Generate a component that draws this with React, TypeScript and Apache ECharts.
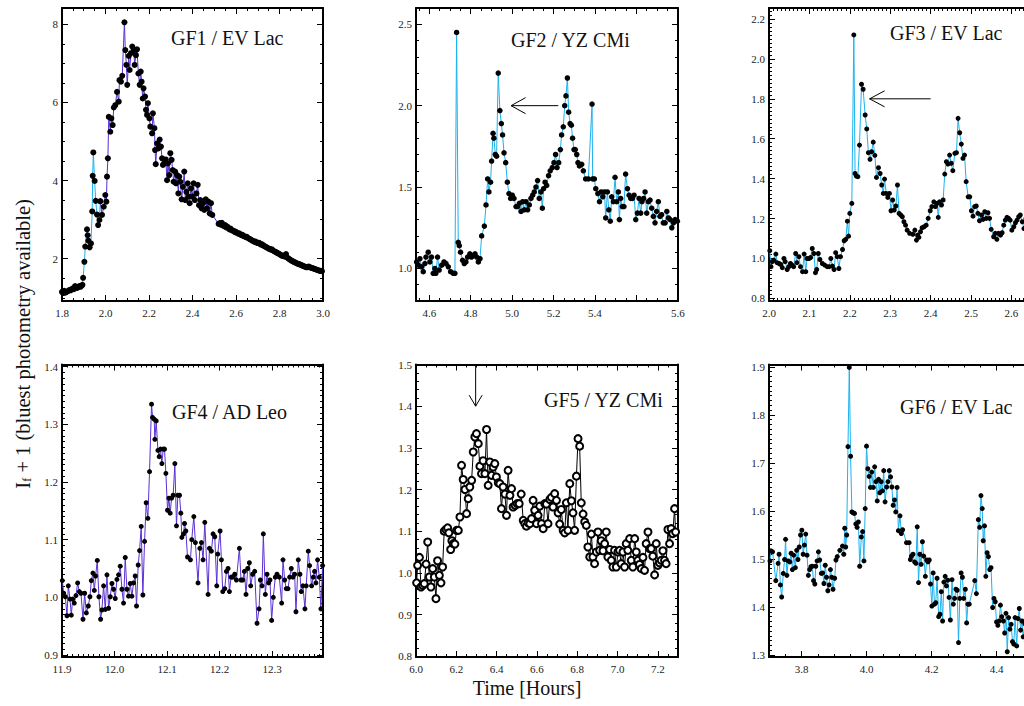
import React, { useEffect, useRef } from "react";
import * as echarts from "echarts";

const FONT = "'Liberation Serif', 'Times New Roman', serif";
const CYAN = "#1cb2ee";
const PURPLE = "#5a30d4";

// ---------------- data (time [hours], I_f + 1) ----------------
const gf1: number[][] = [
  [1.8, 1.15], [1.805, 1.12], [1.81, 1.18], [1.815, 1.13], [1.82, 1.15], [1.825, 1.16], [1.83, 1.18], [1.835, 1.2], [1.84, 1.19], [1.845, 1.22],
  [1.85, 1.24], [1.855, 1.22], [1.86, 1.3], [1.865, 1.27], [1.87, 1.25], [1.875, 1.28], [1.88, 1.3], [1.885, 1.28], [1.89, 1.31], [1.894, 1.33],
  [1.897, 1.51], [1.903, 1.92], [1.907, 2.31], [1.915, 2.75], [1.918, 2.6], [1.921, 2.46], [1.927, 2.29], [1.933, 2.39], [1.939, 3.21], [1.941, 4.12],
  [1.944, 4.72], [1.95, 3.99], [1.955, 3.48], [1.961, 3.13], [1.966, 2.86], [1.972, 2.99], [1.976, 3.47],
  [1.984, 3.12], [1.992, 3.33], [1.999, 3.63], [2.004, 3.46], [2.007, 4.1], [2.011, 4.57], [2.015, 5.63], [2.022, 5.25], [2.027, 5.59], [2.033, 5.42],
  [2.038, 5.87], [2.045, 5.93], [2.053, 6.27], [2.061, 6.02], [2.064, 6.57], [2.071, 6.53], [2.077, 6.68], [2.087, 8.05], [2.091, 7.34], [2.096, 6.96],
  [2.1, 6.45], [2.107, 7.19], [2.111, 6.83], [2.117, 7.26], [2.123, 7.43], [2.13, 7.34], [2.134, 6.96], [2.14, 7.21], [2.145, 7.36], [2.151, 6.74],
  [2.157, 6.45], [2.162, 6.79], [2.166, 6.53], [2.171, 6.1], [2.175, 6.36], [2.182, 6.15], [2.186, 5.81], [2.191, 5.68], [2.195, 5.98], [2.202, 5.59],
  [2.206, 5.38], [2.214, 5.21], [2.218, 5.72], [2.225, 5.34], [2.228, 4.78], [2.231, 4.42], [2.237, 4.95], [2.243, 4.82], [2.249, 5.05], [2.255, 4.87],
  [2.26, 4.57], [2.264, 4.4], [2.27, 4.44], [2.277, 4.54], [2.283, 4.01], [2.287, 4.44], [2.293, 4.14], [2.298, 4.7], [2.304, 4.53], [2.309, 4.27],
  [2.313, 3.97], [2.32, 4.23], [2.324, 3.93], [2.329, 4.14], [2.335, 3.67], [2.339, 4.1], [2.344, 3.97], [2.35, 3.52], [2.356, 3.84], [2.362, 4.23],
  [2.367, 3.5], [2.372, 3.71], [2.378, 3.93], [2.382, 3.59], [2.387, 3.42], [2.393, 3.8], [2.399, 3.59], [2.405, 3.93], [2.411, 3.5], [2.418, 3.67],
  [2.424, 3.89], [2.43, 3.37], [2.436, 3.5], [2.442, 3.29], [2.448, 3.42], [2.454, 3.25], [2.461, 3.52], [2.467, 3.29], [2.473, 3.46], [2.479, 3.16],
  [2.485, 3.42], [2.491, 3.12],
  [2.52, 2.89], [2.525, 2.91], [2.53, 2.87], [2.535, 2.92], [2.54, 2.85], [2.545, 2.83], [2.55, 2.86], [2.555, 2.8], [2.56, 2.82], [2.565, 2.78],
  [2.57, 2.75], [2.575, 2.77], [2.58, 2.73], [2.585, 2.72], [2.59, 2.71], [2.595, 2.68], [2.6, 2.69], [2.605, 2.66], [2.61, 2.64], [2.615, 2.65],
  [2.62, 2.62], [2.625, 2.6], [2.63, 2.61], [2.635, 2.58], [2.64, 2.57], [2.645, 2.55], [2.65, 2.56], [2.655, 2.53], [2.66, 2.51], [2.665, 2.5],
  [2.67, 2.48], [2.675, 2.46], [2.68, 2.45], [2.685, 2.43], [2.69, 2.44], [2.695, 2.41], [2.7, 2.4], [2.705, 2.41], [2.71, 2.38], [2.715, 2.36],
  [2.72, 2.37], [2.725, 2.34], [2.73, 2.32], [2.735, 2.31], [2.74, 2.29], [2.745, 2.28], [2.75, 2.26], [2.755, 2.25], [2.76, 2.23], [2.765, 2.24],
  [2.77, 2.21], [2.775, 2.19], [2.78, 2.18], [2.785, 2.16], [2.79, 2.15], [2.795, 2.13], [2.8, 2.12], [2.805, 2.1], [2.81, 2.08], [2.815, 2.07],
  [2.82, 2.08], [2.825, 2.05], [2.83, 2.12], [2.835, 2.03], [2.84, 2.01], [2.845, 1.99], [2.85, 1.97], [2.855, 1.95], [2.86, 1.94], [2.865, 1.92],
  [2.87, 1.91], [2.875, 1.89], [2.88, 1.88], [2.885, 1.87], [2.89, 1.86], [2.895, 1.85], [2.9, 1.84], [2.905, 1.82], [2.91, 1.81], [2.915, 1.8],
  [2.92, 1.79], [2.925, 1.78], [2.93, 1.79], [2.935, 1.8], [2.94, 1.78], [2.945, 1.77], [2.95, 1.76], [2.955, 1.75], [2.96, 1.74], [2.965, 1.73],
  [2.97, 1.72], [2.975, 1.71], [2.98, 1.7], [2.985, 1.69], [2.99, 1.69], [2.995, 1.68],
];
const GF1_CYAN_UNTIL = 1.976;

const gf2: number[][] = [
  [4.539, 1.04], [4.547, 1.02], [4.555, 1.06], [4.563, 1.01], [4.571, 0.98], [4.579, 1.03], [4.584, 1.07], [4.595, 1.1], [4.603, 1.04], [4.611, 1.07],
  [4.619, 0.97], [4.627, 1.0], [4.632, 0.97], [4.64, 1.07], [4.648, 0.99], [4.66, 1.02], [4.671, 1.04], [4.681, 1.03], [4.692, 1.01], [4.703, 0.98],
  [4.716, 0.97], [4.724, 0.97], [4.732, 2.45], [4.74, 1.16], [4.745, 1.14], [4.751, 1.1], [4.761, 1.05], [4.769, 1.03], [4.777, 1.04], [4.785, 1.07],
  [4.796, 1.09], [4.804, 1.07], [4.813, 1.08], [4.821, 1.09], [4.829, 1.07], [4.837, 1.04], [4.845, 1.06], [4.853, 1.2], [4.866, 1.26], [4.874, 1.39],
  [4.882, 1.55], [4.888, 1.47], [4.896, 1.53], [4.901, 1.66], [4.908, 1.83], [4.912, 1.8], [4.919, 1.7], [4.925, 1.69], [4.933, 2.2], [4.941, 1.97],
  [4.948, 1.89], [4.954, 1.82], [4.961, 1.71], [4.969, 1.65], [4.977, 1.53], [4.985, 1.46], [4.993, 1.43], [5.001, 1.45], [5.009, 1.43], [5.019, 1.38],
  [5.027, 1.38], [5.035, 1.4], [5.043, 1.35], [5.051, 1.41], [5.059, 1.36], [5.067, 1.41], [5.075, 1.36], [5.083, 1.39], [5.091, 1.43], [5.099, 1.45],
  [5.107, 1.47], [5.115, 1.5], [5.123, 1.54], [5.131, 1.43], [5.139, 1.47], [5.146, 1.37], [5.152, 1.49], [5.159, 1.53], [5.167, 1.51], [5.176, 1.57],
  [5.184, 1.6], [5.194, 1.62], [5.202, 1.65], [5.21, 1.7], [5.217, 1.62], [5.225, 1.65], [5.233, 1.73], [5.239, 1.82], [5.247, 1.87], [5.254, 2.0],
  [5.26, 2.06], [5.267, 2.17], [5.273, 1.96], [5.28, 1.89], [5.286, 1.88], [5.292, 1.8], [5.299, 1.73], [5.305, 1.73], [5.312, 1.7], [5.318, 1.65],
  [5.325, 1.63], [5.336, 1.64], [5.344, 1.6], [5.355, 1.55], [5.368, 1.55], [5.386, 2.01], [5.389, 1.55], [5.397, 1.55], [5.404, 1.49], [5.414, 1.46],
  [5.422, 1.41], [5.43, 1.47], [5.438, 1.44], [5.446, 1.47], [5.452, 1.31], [5.46, 1.47], [5.467, 1.36], [5.474, 1.29], [5.481, 1.44], [5.489, 1.41],
  [5.497, 1.56], [5.505, 1.41], [5.513, 1.47], [5.518, 1.3], [5.524, 1.43], [5.532, 1.38], [5.54, 1.38], [5.548, 1.58], [5.557, 1.49], [5.565, 1.45],
  [5.573, 1.43], [5.581, 1.43], [5.589, 1.45], [5.597, 1.3], [5.605, 1.34], [5.613, 1.43], [5.621, 1.34], [5.627, 1.41], [5.635, 1.43], [5.642, 1.47],
  [5.65, 1.34], [5.658, 1.41], [5.666, 1.42], [5.674, 1.37], [5.682, 1.32], [5.69, 1.28], [5.698, 1.35], [5.706, 1.41], [5.714, 1.32], [5.722, 1.33],
  [5.73, 1.28], [5.739, 1.28], [5.747, 1.35], [5.755, 1.31], [5.763, 1.3], [5.771, 1.25], [5.779, 1.28], [5.787, 1.3], [5.798, 1.29],
];

const gf3: number[][] = [
  [2.002, 1.039], [2.005, 0.959], [2.008, 0.984], [2.012, 0.992], [2.017, 1.022], [2.02, 0.979], [2.025, 0.975], [2.029, 0.97], [2.033, 0.954], [2.037, 1.0],
  [2.04, 0.984], [2.045, 0.945], [2.049, 0.959], [2.053, 0.975], [2.057, 0.967], [2.061, 0.959], [2.066, 1.025], [2.069, 0.979], [2.074, 1.009], [2.078, 0.959],
  [2.083, 0.934], [2.087, 1.022], [2.091, 0.934], [2.094, 1.0], [2.099, 1.0], [2.103, 1.005], [2.107, 1.05], [2.111, 1.025], [2.115, 0.929], [2.118, 0.945],
  [2.122, 1.025], [2.126, 0.995], [2.132, 0.975], [2.138, 0.967], [2.144, 0.959], [2.149, 0.959], [2.153, 1.0], [2.157, 0.962], [2.161, 0.945], [2.165, 1.029],
  [2.169, 1.009], [2.173, 0.95], [2.177, 1.009], [2.182, 1.045], [2.186, 1.089], [2.19, 1.096], [2.194, 1.187], [2.197, 1.112], [2.2, 1.226], [2.205, 1.276],
  [2.21, 2.12], [2.213, 1.426], [2.216, 1.413], [2.22, 1.41], [2.224, 1.568], [2.229, 1.873], [2.233, 1.848], [2.238, 1.719], [2.242, 1.649], [2.246, 1.53],
  [2.25, 1.497], [2.254, 1.535], [2.258, 1.583], [2.262, 1.517], [2.266, 1.406], [2.271, 1.455], [2.275, 1.426], [2.279, 1.368], [2.283, 1.326], [2.286, 1.398],
  [2.29, 1.326], [2.294, 1.306], [2.298, 1.326], [2.302, 1.239], [2.306, 1.293], [2.31, 1.243], [2.314, 1.263], [2.318, 1.368], [2.322, 1.226], [2.326, 1.218],
  [2.33, 1.209], [2.334, 1.184], [2.338, 1.167], [2.342, 1.142], [2.348, 1.126], [2.356, 1.121], [2.361, 1.142], [2.365, 1.092], [2.368, 1.117], [2.371, 1.106],
  [2.375, 1.134], [2.379, 1.154], [2.384, 1.159], [2.389, 1.167], [2.394, 1.201], [2.399, 1.239], [2.403, 1.26], [2.408, 1.284], [2.412, 1.26], [2.416, 1.276],
  [2.419, 1.206], [2.422, 1.284], [2.427, 1.268], [2.431, 1.293], [2.435, 1.423], [2.439, 1.485], [2.443, 1.473], [2.447, 1.518], [2.451, 1.477], [2.455, 1.44],
  [2.46, 1.527], [2.464, 1.53], [2.468, 1.702], [2.472, 1.63], [2.476, 1.573], [2.48, 1.502], [2.484, 1.518], [2.488, 1.385], [2.493, 1.309], [2.497, 1.309],
  [2.501, 1.239], [2.505, 1.212], [2.509, 1.26], [2.513, 1.263], [2.517, 1.226], [2.521, 1.189], [2.526, 1.218], [2.53, 1.196], [2.534, 1.234], [2.538, 1.201],
  [2.542, 1.229], [2.546, 1.201], [2.55, 1.146], [2.556, 1.109], [2.56, 1.126], [2.564, 1.096], [2.568, 1.126], [2.573, 1.117], [2.577, 1.129], [2.581, 1.167],
  [2.585, 1.192], [2.589, 1.206], [2.593, 1.201], [2.597, 1.192], [2.601, 1.142], [2.606, 1.159], [2.61, 1.179], [2.614, 1.192], [2.618, 1.209], [2.622, 1.218],
  [2.627, 1.184], [2.631, 1.15], [2.636, 1.2], [2.641, 1.21], [2.646, 1.17],
];

const gf4: number[][] = [
  [11.9006, 1.029], [11.9032, 1.007], [11.9063, 1.001], [11.9095, 0.968], [11.912, 1.02], [11.9152, 0.997], [11.9177, 0.969], [11.9203, 0.997], [11.9234, 0.99], [11.9266, 1.003],
  [11.9298, 1.025], [11.933, 1.01], [11.9361, 1.007], [11.94, 0.962], [11.9431, 1.007], [11.9463, 0.973], [11.9501, 0.985], [11.9532, 1.001], [11.9558, 1.029], [11.9589, 1.042],
  [11.9615, 1.012], [11.964, 1.037], [11.9672, 1.064], [11.9703, 1.001], [11.9735, 0.962], [11.976, 0.978], [11.9792, 1.02], [11.9824, 0.979], [11.9856, 1.039], [11.9887, 0.981],
  [11.9919, 1.001], [11.9951, 1.024], [11.9982, 1.014], [12.0014, 0.998], [12.0046, 1.031], [12.0077, 1.039], [12.0109, 1.054], [12.0141, 1.014], [12.0172, 0.99], [12.0204, 1.069],
  [12.0236, 1.014], [12.0267, 1.002], [12.0299, 1.024], [12.0331, 1.002], [12.0362, 1.025], [12.0394, 1.037], [12.0419, 0.985], [12.0451, 1.056], [12.0477, 1.081], [12.0508, 1.123],
  [12.054, 1.004], [12.0572, 1.097], [12.0603, 1.164], [12.0635, 1.137], [12.0667, 1.218], [12.0705, 1.335], [12.0724, 1.312], [12.0755, 1.309], [12.0768, 1.274], [12.0794, 1.306],
  [12.0826, 1.255], [12.0851, 1.244], [12.0876, 1.257], [12.0902, 1.232], [12.0927, 1.257], [12.0952, 1.257], [12.0978, 1.215], [12.101, 1.151], [12.1035, 1.172], [12.106, 1.146],
  [12.1086, 1.172], [12.1117, 1.177], [12.1149, 1.232], [12.118, 1.124], [12.1206, 1.177], [12.1238, 1.177], [12.1263, 1.146], [12.1282, 1.104], [12.1314, 1.11], [12.1333, 1.128],
  [12.1358, 1.115], [12.139, 1.07], [12.1446, 1.065], [12.1471, 1.1], [12.151, 1.14], [12.154, 1.095], [12.159, 1.025], [12.1624, 1.085], [12.1655, 1.095], [12.1687, 1.065],
  [12.1719, 1.13], [12.1782, 1.005], [12.1807, 1.085], [12.1845, 1.08], [12.1877, 1.11], [12.1909, 1.105], [12.1947, 1.02], [12.1966, 1.075], [12.201, 1.115], [12.2036, 1.065],
  [12.2061, 1.01], [12.2099, 1.015], [12.2131, 1.045], [12.2163, 1.05], [12.2188, 1.01], [12.222, 1.035], [12.2251, 1.035], [12.2289, 1.04], [12.2321, 1.03], [12.2378, 1.085],
  [12.2409, 1.03], [12.2441, 1.03], [12.2473, 1.045], [12.2504, 1.005], [12.2536, 1.05], [12.2568, 1.06], [12.2593, 1.02], [12.2631, 1.04], [12.2669, 1.045], [12.2714, 0.955],
  [12.2752, 0.98], [12.2777, 1.03], [12.2809, 1.02], [12.2834, 1.11], [12.2872, 1.005], [12.2904, 1.04], [12.2935, 1.025], [12.296, 1.03], [12.2992, 0.96], [12.3024, 1.0],
  [12.3062, 1.035], [12.3094, 1.04], [12.3138, 1.035], [12.3183, 0.99], [12.3208, 1.065], [12.324, 1.03], [12.3271, 1.015], [12.3303, 1.015], [12.3335, 1.035], [12.3366, 1.05],
  [12.3398, 1.035], [12.343, 1.04], [12.3455, 0.975], [12.3499, 1.065], [12.3531, 1.04], [12.3556, 1.01], [12.3588, 1.02], [12.3626, 0.98], [12.3651, 1.02], [12.369, 1.08],
  [12.3715, 1.055], [12.3753, 1.02], [12.3785, 1.035], [12.381, 1.045], [12.3835, 1.025], [12.3867, 1.065], [12.3899, 1.035], [12.393, 0.98], [12.3962, 1.055],
];

const gf5: number[][] = [
  [6.003, 0.976], [6.008, 1.018], [6.017, 1.037], [6.025, 0.966], [6.033, 0.97], [6.041, 0.974], [6.05, 1.021], [6.058, 1.074], [6.066, 0.99], [6.074, 0.966],
  [6.083, 1.01], [6.091, 0.99], [6.099, 0.938], [6.107, 1.029], [6.116, 0.994], [6.124, 0.976], [6.132, 1.014], [6.14, 1.1], [6.149, 1.104], [6.157, 1.108],
  [6.163, 1.096], [6.172, 1.056], [6.178, 1.077], [6.185, 1.07], [6.193, 1.069], [6.201, 1.102], [6.21, 1.102], [6.218, 1.134], [6.226, 1.258], [6.234, 1.224],
  [6.243, 1.2], [6.251, 1.142], [6.259, 1.178], [6.267, 1.206], [6.276, 1.222], [6.284, 1.29], [6.292, 1.326], [6.3, 1.334], [6.309, 1.31], [6.317, 1.256],
  [6.325, 1.238], [6.333, 1.269], [6.342, 1.238], [6.35, 1.344], [6.358, 1.21], [6.366, 1.266], [6.375, 1.234], [6.383, 1.254], [6.391, 1.262], [6.399, 1.23],
  [6.408, 1.216], [6.416, 1.214], [6.424, 1.154], [6.432, 1.206], [6.441, 1.189], [6.449, 1.138], [6.457, 1.246], [6.466, 1.186], [6.474, 1.202], [6.482, 1.158],
  [6.492, 1.162], [6.502, 1.166], [6.512, 1.166], [6.522, 1.189], [6.532, 1.126], [6.54, 1.118], [6.548, 1.112], [6.556, 1.12], [6.565, 1.118], [6.573, 1.13],
  [6.581, 1.174], [6.589, 1.15], [6.598, 1.118], [6.606, 1.138], [6.614, 1.16], [6.623, 1.118], [6.631, 1.106], [6.639, 1.166], [6.647, 1.165], [6.655, 1.118],
  [6.664, 1.176], [6.672, 1.181], [6.68, 1.158], [6.688, 1.19], [6.697, 1.174], [6.705, 1.144], [6.713, 1.117], [6.721, 1.152], [6.73, 1.102], [6.738, 1.096],
  [6.746, 1.168], [6.754, 1.102], [6.763, 1.214], [6.771, 1.173], [6.779, 1.144], [6.787, 1.102], [6.796, 1.232], [6.804, 1.322], [6.812, 1.304], [6.82, 1.168],
  [6.829, 1.141], [6.837, 1.122], [6.845, 1.114], [6.853, 1.062], [6.862, 1.038], [6.87, 1.093], [6.878, 1.038], [6.886, 1.022], [6.895, 1.05], [6.903, 1.098],
  [6.911, 1.054], [6.919, 1.077], [6.928, 1.053], [6.936, 1.07], [6.944, 1.098], [6.952, 1.038], [6.961, 1.056], [6.969, 1.03], [6.977, 1.014], [6.985, 1.054],
  [6.994, 1.014], [7.002, 1.05], [7.01, 1.054], [7.018, 1.022], [7.027, 1.05], [7.035, 1.014], [7.043, 1.07], [7.051, 1.054], [7.06, 1.082], [7.068, 1.03],
  [7.076, 1.014], [7.085, 1.082], [7.093, 1.05], [7.101, 1.03], [7.109, 1.02], [7.118, 1.01], [7.126, 1.037], [7.134, 1.006], [7.142, 1.07], [7.151, 1.098],
  [7.159, 1.058], [7.167, 1.058], [7.175, 1.04], [7.184, 0.995], [7.192, 1.07], [7.2, 1.018], [7.208, 1.024], [7.217, 1.03], [7.225, 1.053], [7.233, 1.03],
  [7.241, 1.022], [7.25, 1.104], [7.258, 1.07], [7.266, 1.106], [7.274, 1.094], [7.283, 1.154], [7.288, 1.098],
];

const gf6: number[][] = [
  [3.703, 1.496], [3.706, 1.517], [3.711, 1.515], [3.721, 1.455], [3.728, 1.491], [3.731, 1.51], [3.735, 1.446], [3.739, 1.421], [3.744, 1.47], [3.748, 1.499],
  [3.751, 1.541], [3.755, 1.466], [3.759, 1.496], [3.764, 1.494], [3.768, 1.512], [3.772, 1.478], [3.776, 1.508], [3.781, 1.482], [3.785, 1.518], [3.789, 1.499],
  [3.793, 1.525], [3.797, 1.55], [3.801, 1.56], [3.805, 1.51], [3.809, 1.529], [3.813, 1.552], [3.817, 1.508], [3.821, 1.466], [3.825, 1.478], [3.829, 1.484],
  [3.833, 1.485], [3.837, 1.455], [3.841, 1.448], [3.844, 1.485], [3.848, 1.496], [3.852, 1.515], [3.856, 1.498], [3.861, 1.47], [3.865, 1.471], [3.869, 1.449],
  [3.873, 1.487], [3.877, 1.462], [3.881, 1.434], [3.885, 1.446], [3.889, 1.478], [3.893, 1.462], [3.897, 1.437], [3.902, 1.46], [3.906, 1.498], [3.91, 1.505],
  [3.918, 1.518], [3.926, 1.527], [3.93, 1.51], [3.933, 1.564], [3.936, 1.525], [3.939, 1.55], [3.943, 1.734], [3.947, 1.899], [3.951, 1.714], [3.955, 1.598],
  [3.959, 1.596], [3.963, 1.595], [3.967, 1.573], [3.971, 1.566], [3.975, 1.577], [3.979, 1.485], [3.984, 1.546], [3.988, 1.557], [3.992, 1.496], [3.996, 1.605],
  [4.0, 1.735], [4.004, 1.688], [4.008, 1.672], [4.012, 1.649], [4.016, 1.681], [4.021, 1.649], [4.025, 1.692], [4.029, 1.661], [4.033, 1.621], [4.037, 1.666],
  [4.041, 1.638], [4.045, 1.661], [4.049, 1.642], [4.053, 1.684], [4.057, 1.619], [4.062, 1.65], [4.066, 1.661], [4.07, 1.684], [4.074, 1.671], [4.078, 1.65],
  [4.082, 1.612], [4.086, 1.623], [4.09, 1.598], [4.094, 1.649], [4.098, 1.559], [4.103, 1.59], [4.107, 1.553], [4.111, 1.561], [4.123, 1.534], [4.131, 1.534],
  [4.135, 1.499], [4.138, 1.506], [4.143, 1.51], [4.148, 1.494], [4.152, 1.491], [4.156, 1.567], [4.16, 1.451], [4.164, 1.51], [4.168, 1.489], [4.172, 1.536],
  [4.176, 1.506], [4.181, 1.464], [4.185, 1.498], [4.189, 1.494], [4.193, 1.498], [4.197, 1.448], [4.201, 1.402], [4.205, 1.471], [4.209, 1.406], [4.213, 1.409],
  [4.217, 1.46], [4.222, 1.38], [4.226, 1.385], [4.23, 1.432], [4.234, 1.371], [4.238, 1.452], [4.242, 1.464], [4.246, 1.444], [4.25, 1.456], [4.254, 1.42],
  [4.258, 1.373], [4.263, 1.457], [4.267, 1.406], [4.271, 1.418], [4.275, 1.437], [4.279, 1.435], [4.283, 1.326], [4.287, 1.418], [4.291, 1.471], [4.295, 1.462],
  [4.299, 1.418], [4.304, 1.437], [4.308, 1.367], [4.312, 1.406], [4.316, 1.406], [4.333, 1.455], [4.338, 1.428], [4.344, 1.582], [4.348, 1.566], [4.352, 1.632],
  [4.356, 1.605], [4.359, 1.538], [4.363, 1.569], [4.367, 1.464], [4.371, 1.513], [4.375, 1.505], [4.379, 1.478], [4.383, 1.482], [4.388, 1.399], [4.392, 1.418],
  [4.396, 1.411], [4.4, 1.369], [4.404, 1.362], [4.408, 1.371], [4.412, 1.404], [4.416, 1.38], [4.421, 1.371], [4.425, 1.346], [4.429, 1.387], [4.433, 1.307],
  [4.437, 1.378], [4.441, 1.354], [4.445, 1.364], [4.449, 1.328], [4.453, 1.323], [4.457, 1.378], [4.462, 1.319], [4.466, 1.376], [4.47, 1.397], [4.474, 1.352],
  [4.478, 1.371], [4.482, 1.338], [4.487, 1.365], [4.492, 1.328],
];

// arrows: [x from, y from, x to, y to]
const gf2Arrow = [5.223, 2.0, 4.995, 2.0];
const gf3Arrow = [2.4, 1.8, 2.249, 1.8];
const gf5Arrow = [6.296, 1.5, 6.296, 1.4];

// ---------------- ticks ----------------
const gf1XLabels = [1.8, 2.0, 2.2, 2.4, 2.6, 2.8, 3.0];
const gf1YLabels = [2, 4, 6, 8];
const gf2XLabels = [4.6, 4.8, 5.0, 5.2, 5.4, 5.8];
const gf2YLabels = [1.0, 1.5, 2.0, 2.5];
const gf3XLabels = [2.0, 2.1, 2.2, 2.3, 2.4, 2.5, 2.6];
const gf3YLabels = [0.8, 1.0, 1.2, 1.4, 1.6, 1.8, 2.0, 2.2];
const gf4XLabels = [11.9, 12.0, 12.1, 12.2, 12.3];
const gf4YLabels = [0.9, 1.0, 1.1, 1.2, 1.3, 1.4];
const gf5XLabels = [6.0, 6.2, 6.4, 6.6, 6.8, 7.0, 7.2];
const gf5YLabels = [0.8, 0.9, 1.0, 1.1, 1.2, 1.3, 1.4, 1.5];
const gf6XLabels = [3.8, 4.0, 4.2, 4.4];
const gf6YLabels = [1.3, 1.4, 1.5, 1.6, 1.7, 1.8, 1.9];

function steps(a: number, b: number, s: number): number[] {
  const n = Math.round((b - a) / s);
  const out: number[] = [];
  for (let i = 0; i <= n; i++) out.push(+(a + i * s).toFixed(5));
  return out;
}

const fmt1 = (v: number) => v.toFixed(1);
const fmt0 = (v: number) => String(Math.round(v));
const fmtGf2X = (v: number) => (v > 5.7 ? "5.6" : v.toFixed(1));

type AxisDef = { min: number; max: number; major: number[]; minor: number[]; labels: number[]; fmt: (v: number) => string };
type PanelDef = { grid: { left: number; top: number; width: number; height: number }; x: AxisDef; y: AxisDef };

const panels: PanelDef[] = [
  {
    grid: { left: 62, top: 8, width: 261, height: 293 },
    x: { min: 1.8, max: 3.0, major: steps(1.8, 3.0, 0.2), minor: steps(1.8, 3.0, 0.05), labels: gf1XLabels, fmt: fmt1 },
    y: { min: 0.917, max: 8.417, major: gf1YLabels, minor: steps(1.0, 8.0, 0.5), labels: gf1YLabels, fmt: fmt0 },
  },
  {
    grid: { left: 416, top: 8, width: 262, height: 293 },
    x: { min: 4.536, max: 5.801, major: steps(4.6, 5.8, 0.2), minor: steps(4.55, 5.8, 0.05), labels: gf2XLabels, fmt: fmtGf2X },
    y: { min: 0.8, max: 2.6, major: gf2YLabels, minor: steps(0.8, 2.6, 0.1), labels: gf2YLabels, fmt: fmt1 },
  },
  {
    grid: { left: 769, top: 8, width: 262, height: 293 },
    x: { min: 2.0, max: 2.6485, major: steps(2.0, 2.6, 0.1), minor: steps(2.0, 2.64, 0.01), labels: gf3XLabels, fmt: fmt1 },
    y: { min: 0.787, max: 2.255, major: gf3YLabels, minor: steps(0.8, 2.24, 0.02), labels: gf3YLabels, fmt: fmt1 },
  },
  {
    grid: { left: 62, top: 364.5, width: 261, height: 292.5 },
    x: { min: 11.9, max: 12.397, major: steps(11.9, 12.3, 0.1), minor: steps(11.9, 12.39, 0.01), labels: gf4XLabels, fmt: fmt1 },
    y: { min: 0.8965, max: 1.4038, major: gf4YLabels, minor: steps(0.9, 1.4, 0.01), labels: gf4YLabels, fmt: fmt1 },
  },
  {
    grid: { left: 416, top: 364.5, width: 262, height: 292.5 },
    x: { min: 6.0, max: 7.3, major: steps(6.0, 7.2, 0.2), minor: steps(6.0, 7.3, 0.05), labels: gf5XLabels, fmt: fmt1 },
    y: { min: 0.798, max: 1.5, major: gf5YLabels, minor: steps(0.8, 1.5, 0.02), labels: gf5YLabels, fmt: fmt1 },
  },
  {
    grid: { left: 769, top: 364.5, width: 262, height: 292.5 },
    x: { min: 3.7, max: 4.506, major: steps(3.8, 4.4, 0.2), minor: steps(3.7, 4.5, 0.05), labels: gf6XLabels, fmt: fmt1 },
    y: { min: 1.296, max: 1.905, major: gf6YLabels, minor: steps(1.3, 1.9, 0.01), labels: gf6YLabels, fmt: fmt1 },
  },
];

const titles = [
  { text: "GF1 / EV Lac", x: 171, y: 38 },
  { text: "GF2 / YZ CMi", x: 511, y: 40 },
  { text: "GF3 / EV Lac", x: 890, y: 33 },
  { text: "GF4 / AD Leo", x: 172, y: 412 },
  { text: "GF5 / YZ CMi", x: 544, y: 400 },
  { text: "GF6 / EV Lac", x: 900, y: 407 },
];

function buildOption() {
  const grids: any[] = [];
  const xAxes: any[] = [];
  const yAxes: any[] = [];
  const labelStyle = { fontFamily: FONT, fontSize: 11, color: "#222" };
  const tickLine = { color: "#000", width: 1 };
  const boxLine = { show: true, onZero: false, lineStyle: { color: "#000", width: 2 } };
  const noLine = { show: false, onZero: false };

  panels.forEach((p, g) => {
    grids.push({ ...p.grid, containLabel: false, outerBoundsMode: "none" });
    const bx = { gridIndex: g, type: "value", min: p.x.min, max: p.x.max, splitLine: { show: false }, silent: true };
    xAxes.push({ ...bx, position: "bottom", axisLine: boxLine, axisTick: { show: true, inside: true, length: 6, customValues: p.x.major, lineStyle: tickLine }, axisLabel: { show: true, customValues: p.x.labels, formatter: p.x.fmt, margin: 6, ...labelStyle } });
    xAxes.push({ ...bx, position: "bottom", axisLine: noLine, axisTick: { show: true, inside: true, length: 3, customValues: p.x.minor, lineStyle: tickLine }, axisLabel: { show: false } });
    xAxes.push({ ...bx, position: "top", axisLine: boxLine, axisTick: { show: true, inside: true, length: 6, customValues: p.x.major, lineStyle: tickLine }, axisLabel: { show: false } });
    xAxes.push({ ...bx, position: "top", axisLine: noLine, axisTick: { show: true, inside: true, length: 3, customValues: p.x.minor, lineStyle: tickLine }, axisLabel: { show: false } });
    const by = { gridIndex: g, type: "value", min: p.y.min, max: p.y.max, splitLine: { show: false }, silent: true };
    yAxes.push({ ...by, position: "left", axisLine: boxLine, axisTick: { show: true, inside: true, length: 6, customValues: p.y.major, lineStyle: tickLine }, axisLabel: { show: true, customValues: p.y.labels, formatter: p.y.fmt, margin: 4, ...labelStyle } });
    yAxes.push({ ...by, position: "left", axisLine: noLine, axisTick: { show: true, inside: true, length: 3, customValues: p.y.minor, lineStyle: tickLine }, axisLabel: { show: false } });
    yAxes.push({ ...by, position: "right", axisLine: boxLine, axisTick: { show: true, inside: true, length: 6, customValues: p.y.major, lineStyle: tickLine }, axisLabel: { show: false } });
    yAxes.push({ ...by, position: "right", axisLine: noLine, axisTick: { show: true, inside: true, length: 3, customValues: p.y.minor, lineStyle: tickLine }, axisLabel: { show: false } });
  });

  const line = (g: number, data: number[][], color: string, size: number, symbol = "circle", borderWidth = 0) => ({
    type: "line",
    xAxisIndex: 4 * g,
    yAxisIndex: 4 * g,
    data,
    showSymbol: true,
    showAllSymbol: true,
    symbol,
    symbolSize: size,
    itemStyle: { color: "#000", borderColor: "#000", borderWidth },
    lineStyle: { color, width: 1 },
    silent: true,
    clip: true,
    emphasis: { disabled: true },
    z: 2,
  });

  const arrow = (g: number, a: number[], headLen: number, headHalf: number) => ({
    type: "custom",
    xAxisIndex: 4 * g,
    yAxisIndex: 4 * g,
    data: [a],
    clip: false,
    silent: true,
    z: 5,
    renderItem: (_params: any, api: any) => {
      const p1 = api.coord([api.value(0), api.value(1)]);
      const p2 = api.coord([api.value(2), api.value(3)]);
      const dx = p2[0] - p1[0];
      const dy = p2[1] - p1[1];
      const L = Math.hypot(dx, dy) || 1;
      const ux = dx / L;
      const uy = dy / L;
      const h1 = [p2[0] - ux * headLen - uy * headHalf, p2[1] - uy * headLen + ux * headHalf];
      const h2 = [p2[0] - ux * headLen + uy * headHalf, p2[1] - uy * headLen - ux * headHalf];
      return {
        type: "group",
        children: [
          { type: "line", shape: { x1: p1[0], y1: p1[1], x2: p2[0], y2: p2[1] }, style: { stroke: "#000", lineWidth: 1 } },
          { type: "polyline", shape: { points: [h1, p2, h2] }, style: { stroke: "#000", lineWidth: 1, fill: null } },
        ],
      };
    },
  });

  const gf1Cyan = gf1.filter((d) => d[0] <= GF1_CYAN_UNTIL);
  const gf1Purple = gf1.filter((d) => d[0] >= GF1_CYAN_UNTIL);

  const series = [
    line(0, gf1Cyan, CYAN, 6),
    line(0, gf1Purple, PURPLE, 6),
    line(1, gf2, CYAN, 5.5),
    line(2, gf3, CYAN, 5),
    line(3, gf4, PURPLE, 5),
    line(4, gf5, "#000", 7, "emptyCircle", 0.9),
    line(5, gf6, CYAN, 5),
    arrow(1, gf2Arrow, 14.5, 8),
    arrow(2, gf3Arrow, 15, 8),
    arrow(4, gf5Arrow, 11, 6.5),
  ];

  const graphic: any[] = titles.map((t) => ({
    type: "text",
    x: t.x,
    y: t.y,
    z: 100,
    silent: true,
    style: { text: t.text, fontFamily: FONT, fontSize: 20, fill: "#111", align: "left", verticalAlign: "middle" },
  }));
  graphic.push({
    type: "text",
    x: 22,
    y: 344,
    rotation: Math.PI / 2,
    z: 100,
    silent: true,
    style: {
      text: "{n|I}{s|f}{n| + 1 (bluest photometry available)}",
      align: "center",
      verticalAlign: "middle",
      fill: "#111",
      rich: {
        n: { fontFamily: FONT, fontSize: 20.5, fill: "#111", lineHeight: 22, verticalAlign: "bottom" },
        s: { fontFamily: FONT, fontSize: 13, fill: "#111", lineHeight: 14, verticalAlign: "bottom" },
      },
    },
  });
  graphic.push({
    type: "text",
    x: 527,
    y: 688,
    z: 100,
    silent: true,
    style: { text: "Time [Hours]", fontFamily: FONT, fontSize: 20, fill: "#111", align: "center", verticalAlign: "middle" },
  });

  return {
    animation: false,
    backgroundColor: "#fff",
    grid: grids,
    xAxis: xAxes,
    yAxis: yAxes,
    series,
    graphic,
  };
}

export default function App() {
  const ref = useRef<HTMLDivElement>(null);
  useEffect(() => {
    if (!ref.current) return;
    const chart = echarts.init(ref.current, undefined, { renderer: "svg" });
    chart.setOption(buildOption() as any);
    return () => chart.dispose();
  }, []);
  return (
    <div style={{ position: "fixed", left: 0, top: 0, width: 1024, height: 706, overflow: "hidden", background: "#fff" }}>
      <div ref={ref} style={{ width: 1040, height: 706 }} />
    </div>
  );
}
